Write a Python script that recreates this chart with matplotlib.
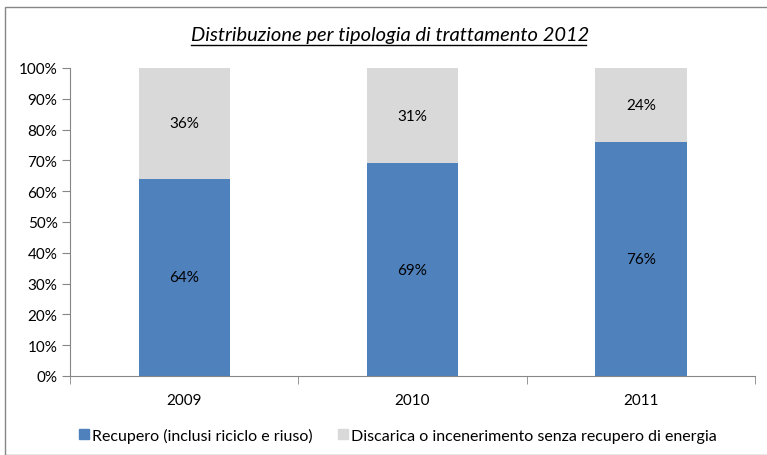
import matplotlib
matplotlib.use("Agg")
import matplotlib.pyplot as plt
from matplotlib.patches import Rectangle, Patch

years = ["2009", "2010", "2011"]
recupero = [64, 69, 76]
discarica = [36, 31, 24]
series_names = ["Recupero (inclusi riciclo e riuso)",
                "Discarica o incenerimento senza recupero di energia"]
yticks = list(range(0, 101, 10))

plt.rcParams['font.family'] = ['Lato', 'DejaVu Sans']

W, H = 767, 456
fig = plt.figure(figsize=(W/100, H/100), dpi=100)
ax = fig.add_axes([70/W, 1-377/H, (755-70)/W, (377-69)/H])

blue = "#4F81BD"
gray = "#D9D9D9"
x = range(len(years))
ax.bar(x, recupero, width=0.4, color=blue)
ax.bar(x, discarica, width=0.4, bottom=recupero, color=gray)

for i in x:
    ax.text(i, recupero[i]/2, f"{recupero[i]}%", ha="center", va="center", fontsize=11, color="black")
    ax.text(i, recupero[i] + discarica[i]/2, f"{discarica[i]}%", ha="center", va="center", fontsize=11, color="black")

ax.set_xlim(-0.5, 2.5)
ax.set_ylim(0, 100)
ax.set_yticks(yticks)
ax.set_yticklabels([f"{v}%" for v in yticks], fontsize=11)
ax.set_xticks([0, 1, 2])
ax.set_xticklabels(years, fontsize=11)
ax.tick_params(axis='x', length=0, pad=12)
ax.set_xticks([-0.5, 0.5, 1.5, 2.5], minor=True)
ax.tick_params(axis='x', which='minor', length=6, color="#868686", direction='out')
ax.tick_params(axis='y', length=6, color="#868686", direction='out', pad=3)
for s in ["top", "right"]:
    ax.spines[s].set_visible(False)
for s in ["left", "bottom"]:
    ax.spines[s].set_color("#868686")

title = fig.text(390/W, 1-35/H, "Distribuzione per tipologia di trattamento 2012",
                 ha="center", va="center", fontsize=14.5, style="italic")
fig.canvas.draw()
bb = title.get_window_extent().transformed(fig.transFigure.inverted())
fig.add_artist(plt.Line2D([bb.x0, bb.x1 - 0.004], [1-46/H, 1-46/H], color="black", lw=1))

handles = [Patch(color=blue), Patch(color=gray)]
fig.legend(handles, series_names, loc="center", bbox_to_anchor=(398/W, 1-436/H),
           ncol=2, frameon=False, fontsize=11.5, handlelength=0.6, handleheight=0.6,
           handletextpad=0.2, columnspacing=1.6)

fig.add_artist(Rectangle((5/W, 0), 1.0, 1-8/H, transform=fig.transFigure,
                         fill=False, edgecolor="#868686", lw=1))

fig.savefig("out.png", dpi=100)
